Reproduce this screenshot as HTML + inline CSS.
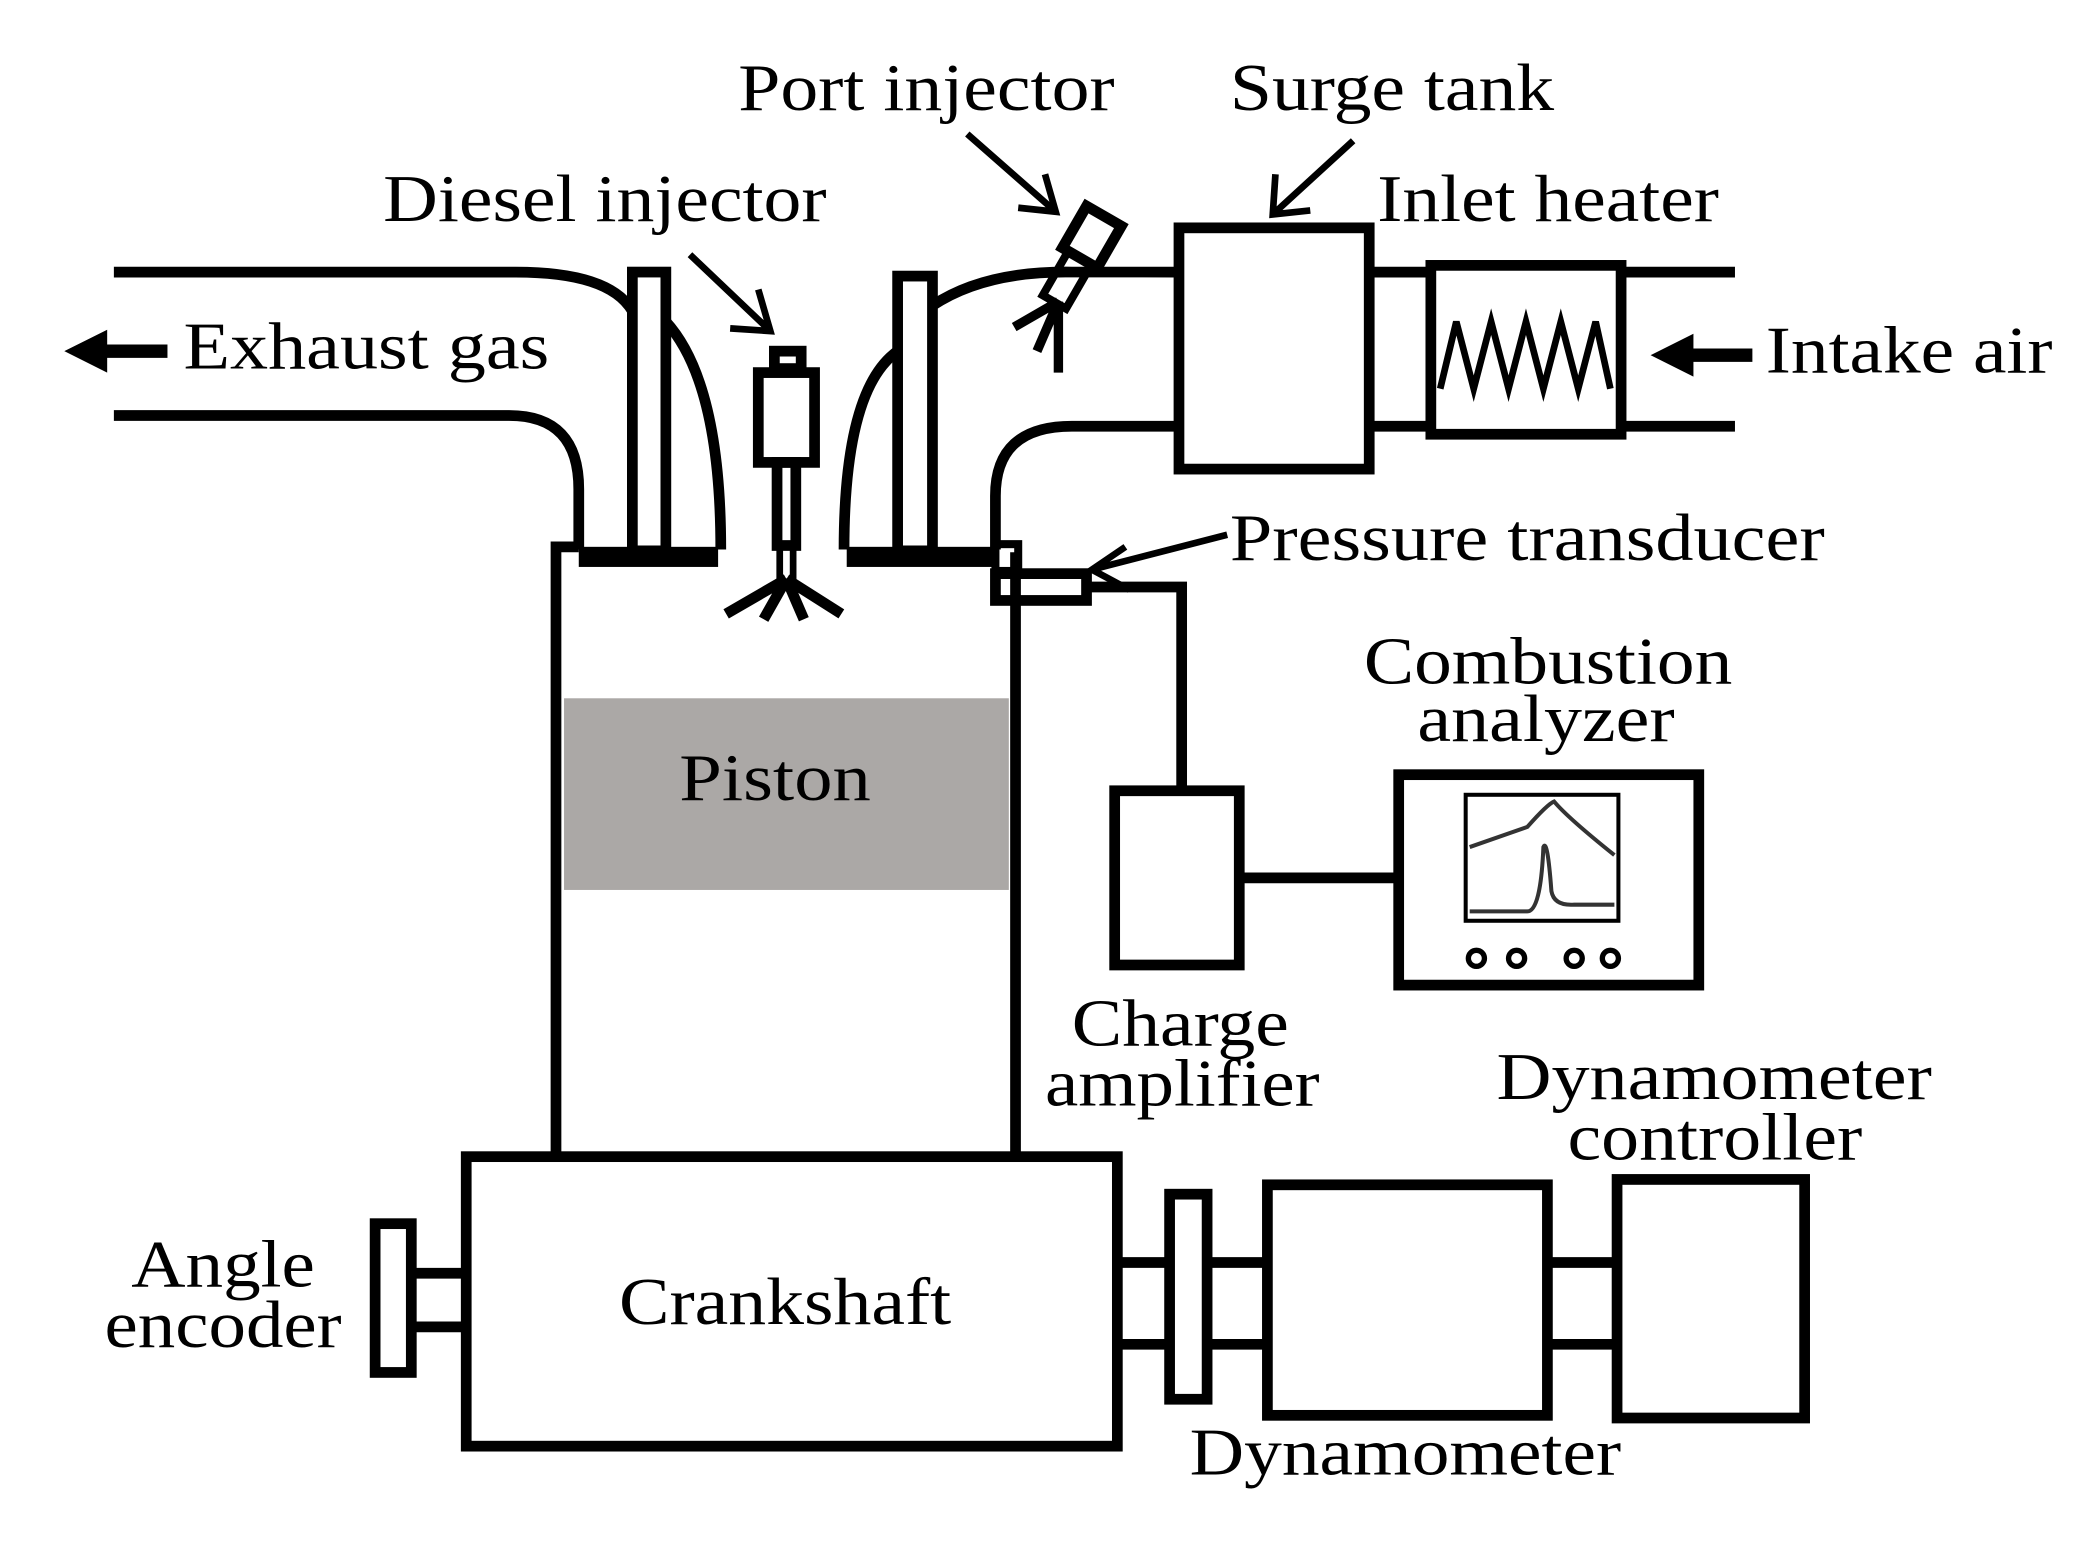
<!DOCTYPE html>
<html><head><meta charset="utf-8"><style>
html,body{margin:0;padding:0;background:#fff;}
svg{display:block;}
text{font-family:"Liberation Serif",serif;font-size:50px;fill:#000;}
</style></head><body>
<svg width="2090" height="1544" viewBox="0 0 1560 1152" preserveAspectRatio="none" xmlns="http://www.w3.org/2000/svg">
<g fill="none" stroke="#000" stroke-width="8">
<path d="M85,203 H385 Q455,203 472,232"/>
<path d="M85,310 H380 Q432,310 432,365 V410"/>
<path d="M497,240 Q538,285 538,410"/>
<rect x="472" y="203" width="25" height="208"/>
<rect x="670" y="206" width="26" height="205"/>
<path d="M630,410 Q630,290 670,262"/>
<path d="M696,228 Q735,202 800,203 H880"/>
<path d="M743,410 V370 Q743,318 800,318 H880"/>
<path d="M1022,203 H1068 M1022,318 H1068 M1210,203 H1295 M1210,318 H1295"/>
<rect x="880" y="170" width="142" height="180"/>
<rect x="1068" y="198" width="142" height="126"/>
<path stroke-width="5" d="M1075,290 L1087,240 L1100,290 L1113,240 L1126,290 L1139,240 L1152,290 L1165,240 L1178,290 L1191,240 L1202,290"/>
<path d="M415,860 V408 H432 M758,860 V412"/>
<rect x="578" y="262" width="20" height="13"/>
<rect x="566" y="278" width="42" height="67"/>
<rect x="580" y="345" width="14" height="62"/>
<rect x="582" y="408" width="10" height="26" stroke-width="5"/>
<path d="M587,432 L542,458 M587,432 L570,462 M587,432 L600,462 M587,432 L628,458"/>
<g transform="translate(812,182) rotate(30)"><rect x="-15" y="-24" width="30" height="36"/><rect x="-10" y="12" width="20" height="38" stroke-width="6"/></g>
<path d="M790,225 L757,244 M790,225 L774,262 M790,225 L790,278" stroke-width="7"/>
<rect x="743" y="428" width="68" height="20"/>
<path d="M811,438 H882 V588"/>
<rect x="832" y="590" width="93" height="130"/>
<path d="M925,655 H1042"/>
<rect x="1044" y="578" width="224" height="157"/>
<rect x="1094" y="593" width="114" height="94" stroke-width="3"/>
<path stroke-width="3" stroke="#333" d="M1097,632 L1140,617 Q1155,600 1160,598 Q1170,610 1205,638 M1097,680 H1140 Q1150,680 1152,632 Q1155,625 1158,665 Q1160,676 1175,675 H1205"/>
<g stroke-width="4"><circle cx="1102" cy="715" r="6"/><circle cx="1132" cy="715" r="6"/><circle cx="1175" cy="715" r="6"/><circle cx="1202" cy="715" r="6"/></g>
<rect x="348" y="863" width="486" height="216"/>
<rect x="280" y="913" width="27" height="111"/>
<path d="M307,950 H348 M307,990 H348"/>
<path d="M834,942 H873 M834,1003 H873 M901,942 H946 M901,1003 H946 M1155,942 H1207 M1155,1003 H1207"/>
<rect x="873" y="891" width="28" height="153"/>
<rect x="946" y="884" width="209" height="172"/>
<rect x="1207" y="880" width="140" height="178"/>
<path d="M515,190 L575,247 M545,245 L575,247 L566,216" stroke-width="5"/>
<path d="M722,100 L788,158 M760,155 L788,158 L780,130" stroke-width="5"/>
<path d="M1010,105 L950,160 M952,130 L950,160 L978,157" stroke-width="5"/>
<path d="M916,399 L815,425 M840,408 L815,425 L843,440" stroke-width="5"/>
</g>
<rect x="432" y="408" width="104" height="15" fill="#000"/>
<rect x="632" y="408" width="110" height="15" fill="#000"/>
<rect x="743" y="406" width="17" height="20" fill="none" stroke="#000" stroke-width="6"/>
<rect x="421" y="521" width="332" height="143" fill="#aba8a6"/>
<path d="M48,262 L80,246 V257 H125 V267 H80 V278 Z" fill="#000"/>
<path d="M1232,265 L1264,249 V260 H1308 V270 H1264 V281 Z" fill="#000"/>
<text x="551" y="82" textLength="281" lengthAdjust="spacingAndGlyphs">Port injector</text>
<text x="918" y="82" textLength="242" lengthAdjust="spacingAndGlyphs">Surge tank</text>
<text x="286" y="165" textLength="331" lengthAdjust="spacingAndGlyphs">Diesel injector</text>
<text x="1028" y="165" textLength="255" lengthAdjust="spacingAndGlyphs">Inlet heater</text>
<text x="137" y="275" textLength="273" lengthAdjust="spacingAndGlyphs">Exhaust gas</text>
<text x="1318" y="278" textLength="214" lengthAdjust="spacingAndGlyphs">Intake air</text>
<text x="918" y="418" textLength="444" lengthAdjust="spacingAndGlyphs">Pressure transducer</text>
<text x="1018" y="510" textLength="275" lengthAdjust="spacingAndGlyphs">Combustion</text>
<text x="1058" y="553" textLength="192" lengthAdjust="spacingAndGlyphs">analyzer</text>
<text x="507" y="597" textLength="143" lengthAdjust="spacingAndGlyphs">Piston</text>
<text x="800" y="780" textLength="162" lengthAdjust="spacingAndGlyphs">Charge</text>
<text x="780" y="825" textLength="205" lengthAdjust="spacingAndGlyphs">amplifier</text>
<text x="1117" y="820" textLength="325" lengthAdjust="spacingAndGlyphs">Dynamometer</text>
<text x="1170" y="865" textLength="220" lengthAdjust="spacingAndGlyphs">controller</text>
<text x="98" y="960" textLength="137" lengthAdjust="spacingAndGlyphs">Angle</text>
<text x="78" y="1005" textLength="177" lengthAdjust="spacingAndGlyphs">encoder</text>
<text x="462" y="988" textLength="248" lengthAdjust="spacingAndGlyphs">Crankshaft</text>
<text x="888" y="1100" textLength="322" lengthAdjust="spacingAndGlyphs">Dynamometer</text>
</svg>
</body></html>
